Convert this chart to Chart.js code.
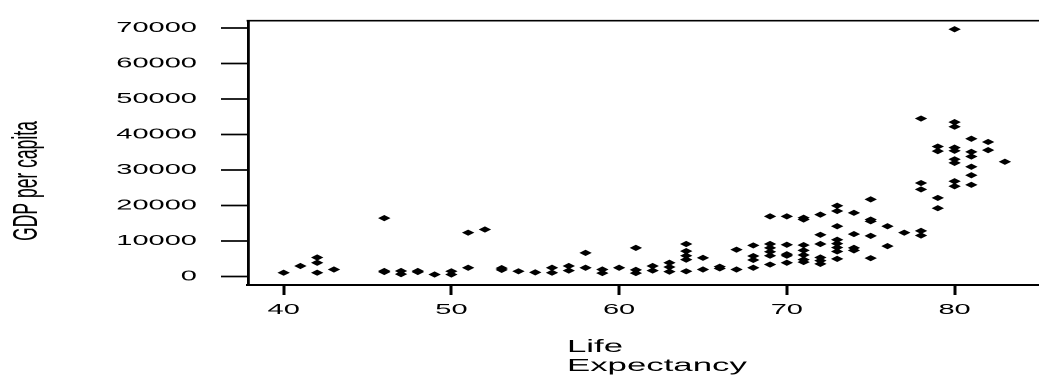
<!DOCTYPE html>
<html>
<head>
<meta charset="utf-8">
<script src="https://cdn.jsdelivr.net/npm/chart.js@4.4.1/dist/chart.umd.min.js"></script>
<style>
  html, body { margin: 0; padding: 0; background: #ffffff; overflow: hidden; }
  #wrap { width: 1039px; height: 378px; overflow: hidden; position: relative; background: #fff; }
  #c { position: absolute; left: 0; top: 0; transform: scaleX(2); transform-origin: 0 0; }
</style>
</head>
<body>
<div id="wrap"><canvas id="c" width="540" height="378" style="width:540px;height:378px"></canvas></div>
<script>
// ---- Data ----
const lifeExpectancy = [
  40,
  41,
  42, 42, 42,
  43,
  46, 46, 46,
  47, 47,
  48, 48,
  49,
  50, 50,
  51, 51,
  52,
  53, 53,
  54,
  55,
  56, 56,
  57, 57,
  58, 58,
  59, 59,
  60,
  61, 61, 61,
  62, 62,
  63, 63, 63,
  64, 64, 64, 64, 64,
  65, 65,
  66, 66,
  67, 67,
  68, 68, 68, 68,
  69, 69, 69, 69, 69, 69,
  70, 70, 70, 70, 70,
  71, 71, 71, 71, 71, 71, 71,
  72, 72, 72, 72, 72, 72,
  73, 73, 73, 73, 73, 73, 73, 73,
  74, 74, 74, 74,
  75, 75, 75, 75, 75,
  76, 76,
  77,
  78, 78, 78, 78, 78,
  79, 79, 79, 79,
  80, 80, 80, 80, 80, 80, 80, 80, 80,
  81, 81, 81, 81, 81, 81,
  82, 82,
  83
];
const gdpPerCapita = [
  1000,
  2900,
  5300, 3800, 1000,
  1900,
  16400, 1500, 1200,
  1500, 600,
  1500, 1200,
  500,
  1400, 500,
  12300, 2400,
  13200,
  2300, 1800,
  1400,
  1100,
  2400, 1000,
  2900, 1600,
  6600, 2400,
  1900, 900,
  2400,
  8000, 1800, 900,
  2900, 1600,
  3800, 2600, 1300,
  9100, 7100, 5800, 4700, 1400,
  5200, 1900,
  2700, 2200,
  7500, 1900,
  8700, 5700, 4600, 2400,
  16900, 9100, 8000, 6900, 5800, 3300,
  16900, 8900, 6200, 5800, 3800,
  16500, 16000, 8800, 7300, 6000, 4700, 4000,
  17400, 11700, 9100, 5300, 4400, 3500,
  19900, 18400, 14100, 10300, 9200, 8100, 7000, 4900,
  17900, 11900, 8000, 7300,
  21700, 16000, 15500, 11400, 5100,
  14100, 8500,
  12300,
  44500, 26300, 24500, 12800, 11500,
  36600, 35300, 22100, 19200,
  69700, 43500, 42200, 36300, 35400, 33000, 32000, 26800, 25400,
  38800, 35100, 33800, 30900, 28500, 25800,
  37900, 35600,
  32300
];
const xTickValues = [40, 50, 60, 70, 80];
const yTickValues = [0, 10000, 20000, 30000, 40000, 50000, 60000, 70000];
const xTitleLines = ['Life', 'Expectancy'];
const yTitleText = 'GDP per capita';

const nPts = Math.min(lifeExpectancy.length, gdpPerCapita.length);
const points = [];
for (let i = 0; i < nPts; i++) points.push({ x: lifeExpectancy[i], y: gdpPerCapita[i] });

const FONT = '"Liberation Sans", Arial, Helvetica, sans-serif';

const framePlugin = {
  id: 'frameAndTitles',
  afterDraw(chart) {
    const ctx = chart.ctx;
    const a = chart.chartArea;
    ctx.save();
    // top frame line
    ctx.strokeStyle = '#000';
    ctx.lineWidth = 1.7;
    ctx.beginPath();
    ctx.moveTo(a.left - 0.7, a.top);
    ctx.lineTo(a.right + 5, a.top);
    ctx.stroke();
    ctx.restore();

    // y-axis title (rotated)
    ctx.save();
    ctx.fillStyle = '#000';
    ctx.font = '17.5px ' + FONT;
    ctx.textAlign = 'center';
    ctx.textBaseline = 'alphabetic';
    ctx.translate(18.4, 181);
    ctx.rotate(-Math.PI / 2);
    ctx.fillText(yTitleText, 0, 0);
    ctx.restore();

    // x-axis title (two lines, left aligned)
    ctx.save();
    ctx.fillStyle = '#000';
    ctx.font = '17.4px ' + FONT;
    ctx.textAlign = 'left';
    ctx.textBaseline = 'alphabetic';
    ctx.fillText(xTitleLines[0], 283.5, 352);
    ctx.fillText(xTitleLines[1], 283.5, 371);
    ctx.restore();
  }
};

new Chart(document.getElementById('c'), {
  type: 'scatter',
  data: {
    datasets: [{
      data: points,
      pointStyle: 'rectRot',
      pointRadius: 3.1,
      pointBorderWidth: 0,
      backgroundColor: '#000',
      borderColor: '#000'
    }]
  },
  options: {
    responsive: false,
    animation: false,
    devicePixelRatio: 2,
    layout: { padding: { top: 13, left: 0, right: 0, bottom: 0 } },
    plugins: { legend: { display: false }, tooltip: { enabled: false }, title: { display: false } },
    scales: {
      x: {
        type: 'linear',
        position: 'bottom',
        min: 37.875,
        max: 87,
        afterFit(s) { s.height = 93; },
        afterBuildTicks(s) { s.ticks = xTickValues.map(v => ({ value: v })); },
        grid: { drawOnChartArea: false, drawTicks: true, tickLength: 10, tickWidth: 1.5, tickColor: '#000', color: '#000' },
        border: { display: true, color: '#000', width: 2 },
        ticks: { color: '#000', padding: 6.5, autoSkip: false, maxRotation: 0, font: { family: FONT, size: 14.5 }, callback: v => String(v) }
      },
      y: {
        type: 'linear',
        position: 'left',
        min: -2468,
        max: 72111,
        afterFit(s) { s.width = 124; },
        afterBuildTicks(s) { s.ticks = yTickValues.map(v => ({ value: v })); },
        grid: { drawOnChartArea: false, drawTicks: true, tickLength: 13.5, tickWidth: 1.7, tickColor: '#000', color: '#000' },
        border: { display: true, color: '#000', width: 1.4 },
        ticks: { color: '#000', padding: 12, autoSkip: false, font: { family: FONT, size: 14.5 }, callback: v => String(v) }
      }
    }
  },
  plugins: [framePlugin]
});
</script>
</body>
</html>
